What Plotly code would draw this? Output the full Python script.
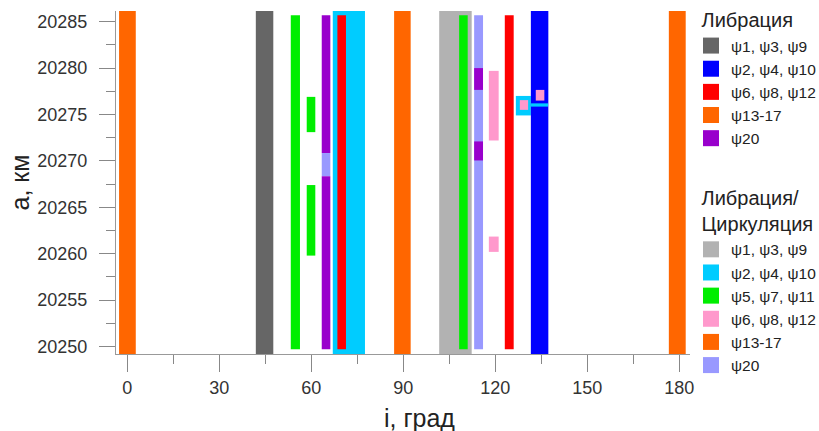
import plotly.graph_objects as go

# ---------------- data ----------------
# each rectangle: inclination interval [i0, i1] (deg), semi-major axis interval [a0, a1] (km)
A_LO = 20249.2
A_HI = 20286.15

# Libration
lib_gray_i0 = [41.9];  lib_gray_i1 = [47.6];  lib_gray_a0 = [A_LO]; lib_gray_a1 = [A_HI]
lib_blue_i0 = [131.6]; lib_blue_i1 = [137.3]; lib_blue_a0 = [A_LO]; lib_blue_a1 = [A_HI]
lib_red_i0 = [68.5, 123.1]; lib_red_i1 = [71.3, 126.0]
lib_red_a0 = [20249.7, 20249.7]; lib_red_a1 = [20285.7, 20285.7]
lib_orange_i0 = [-2.7, 87.0, 176.6]; lib_orange_i1 = [2.75, 92.4, 182.1]
lib_orange_a0 = [A_LO, A_LO, A_LO]; lib_orange_a1 = [A_HI, A_HI, A_HI]
lib_purple_i0 = [63.4, 63.4, 113.1, 113.1]; lib_purple_i1 = [66.2, 66.2, 116.0, 116.0]
lib_purple_a0 = [20249.7, 20270.85, 20277.65, 20270.05]
lib_purple_a1 = [20268.35, 20285.7, 20280.0, 20272.1]

# Libration / Circulation
lc_gray_i0 = [101.7]; lc_gray_i1 = [112.3]; lc_gray_a0 = [A_LO]; lc_gray_a1 = [A_HI]
lc_cyan_i0 = [67.0, 126.7]; lc_cyan_i1 = [77.5, 131.6]
lc_cyan_a0 = [A_LO, 20274.9]; lc_cyan_a1 = [A_HI, 20277.0]
lc_cyan2_i0 = [131.6]; lc_cyan2_i1 = [137.2]; lc_cyan2_a0 = [20275.85]; lc_cyan2_a1 = [20276.2]
lc_green_i0 = [53.3, 58.5, 58.5, 108.2]; lc_green_i1 = [56.3, 61.3, 61.3, 111.0]
lc_green_a0 = [20249.7, 20273.1, 20259.8, 20249.7]; lc_green_a1 = [20285.7, 20276.9, 20267.4, 20285.7]
lc_pink_i0 = [117.9, 117.9, 128.0, 133.2]; lc_pink_i1 = [121.1, 121.1, 130.7, 136.0]
lc_pink_a0 = [20272.2, 20260.2, 20275.5, 20276.5]; lc_pink_a1 = [20279.7, 20261.85, 20276.55, 20277.65]
lc_lav_i0 = [63.4, 113.1]; lc_lav_i1 = [66.2, 116.0]
lc_lav_a0 = [20268.35, 20249.7]; lc_lav_a1 = [20270.85, 20285.7]

x_ticks = [0, 30, 60, 90, 120, 150, 180]
y_ticks = [20250, 20255, 20260, 20265, 20270, 20275, 20280, 20285]

C_DGRAY = "#666666"; C_BLUE = "#0000ff"; C_RED = "#ff0000"; C_ORANGE = "#ff6600"
C_PURPLE = "#9900cc"; C_LGRAY = "#b2b2b2"; C_CYAN = "#00ccff"; C_GREEN = "#00ee00"
C_PINK = "#ff99cc"; C_LAV = "#9999ff"

FONT = "Liberation Sans, Arial, sans-serif"

fig = go.Figure()


def rects(i0, i1, a0, a1, color):
    fig.add_trace(go.Bar(
        x=[(p + q) / 2 for p, q in zip(i0, i1)],
        width=[q - p for p, q in zip(i0, i1)],
        base=a0,
        y=[q - p for p, q in zip(a0, a1)],
        marker=dict(color=color, line=dict(width=0)),
        showlegend=False, hoverinfo="skip"))


# draw order (back to front)
rects(lc_gray_i0, lc_gray_i1, lc_gray_a0, lc_gray_a1, C_LGRAY)
rects(lc_cyan_i0, lc_cyan_i1, lc_cyan_a0, lc_cyan_a1, C_CYAN)
rects(lc_lav_i0, lc_lav_i1, lc_lav_a0, lc_lav_a1, C_LAV)
rects(lib_gray_i0, lib_gray_i1, lib_gray_a0, lib_gray_a1, C_DGRAY)
rects(lib_blue_i0, lib_blue_i1, lib_blue_a0, lib_blue_a1, C_BLUE)
rects(lib_orange_i0, lib_orange_i1, lib_orange_a0, lib_orange_a1, C_ORANGE)
rects(lc_green_i0, lc_green_i1, lc_green_a0, lc_green_a1, C_GREEN)
rects(lib_red_i0, lib_red_i1, lib_red_a0, lib_red_a1, C_RED)
rects(lib_purple_i0, lib_purple_i1, lib_purple_a0, lib_purple_a1, C_PURPLE)
rects(lc_pink_i0, lc_pink_i1, lc_pink_a0, lc_pink_a1, C_PINK)
rects(lc_cyan2_i0, lc_cyan2_i1, lc_cyan2_a0, lc_cyan2_a1, C_CYAN)

# legend entries
lib_names = ["ψ1, ψ3, ψ9", "ψ2, ψ4, ψ10", "ψ6, ψ8, ψ12", "ψ13-17", "ψ20"]
lib_colors = [C_DGRAY, C_BLUE, C_RED, C_ORANGE, C_PURPLE]
lc_names = ["ψ1, ψ3, ψ9", "ψ2, ψ4, ψ10", "ψ5, ψ7, ψ11", "ψ6, ψ8, ψ12", "ψ13-17", "ψ20"]
lc_colors = [C_LGRAY, C_CYAN, C_GREEN, C_PINK, C_ORANGE, C_LAV]

rank = 1
for n, c in zip(lib_names, lib_colors):
    fig.add_trace(go.Scatter(
        x=[None], y=[None], mode="markers", name=n,
        marker=dict(symbol="square", size=16, color=c),
        legendgroup="lib", legendrank=rank,
        legendgrouptitle=dict(text="\u00a0Либрация", font=dict(size=20, color="#222", family=FONT))))
    rank += 1
for n, c in zip(lc_names, lc_colors):
    fig.add_trace(go.Scatter(
        x=[None], y=[None], mode="markers", name=n,
        marker=dict(symbol="square", size=16, color=c),
        legendgroup="lc", legendrank=rank,
        legendgrouptitle=dict(text="\u00a0Либрация/<br>\u00a0Циркуляция", font=dict(size=20, color="#222", family=FONT))))
    rank += 1

fig.update_layout(
    width=819, height=431,
    margin=dict(l=116, r=129, t=11, b=77, autoexpand=False),
    paper_bgcolor="white", plot_bgcolor="white",
    barmode="overlay",
    font=dict(family=FONT, color="#222"),
    legend=dict(xref="container", yref="container",
                x=691 / 819, xanchor="left", y=1 + 8 / 431, yanchor="top",
                traceorder="grouped", tracegroupgap=33, maxheight=500,
                font=dict(size=15.5, color="#222", family=FONT),
                bgcolor="rgba(0,0,0,0)"),
    xaxis=dict(range=[-3.7, 183.5], tickvals=x_ticks, ticks="outside", ticklen=17,
               tickcolor="#888", showline=True, linecolor="#999", linewidth=1,
               showgrid=False, zeroline=False, automargin=False,
               tickfont=dict(size=18, color="#333"),
               minor=dict(dtick=15, tick0=0, ticks="outside", ticklen=9, tickcolor="#888")),
    yaxis=dict(range=[A_LO, A_HI], tickvals=y_ticks, tickformat="d", ticks="outside", ticklen=16,
               ticklabelstandoff=8, automargin=False,
               tickcolor="#888", showline=True, linecolor="#999", linewidth=1,
               showgrid=False, zeroline=False,
               tickfont=dict(size=18, color="#333"),
               minor=dict(dtick=2.5, tick0=20250, ticks="outside", ticklen=9, tickcolor="#888"),
               title=dict(text="а, км", font=dict(size=25, color="#222"), standoff=0)),
    annotations=[dict(text="i, град", xref="paper", yref="paper",
                      x=(419 - 116) / 574, y=0, xanchor="center", yanchor="middle",
                      yshift=-64, showarrow=False,
                      font=dict(size=25, color="#222", family=FONT))],
)

fig.write_html("out.html")
